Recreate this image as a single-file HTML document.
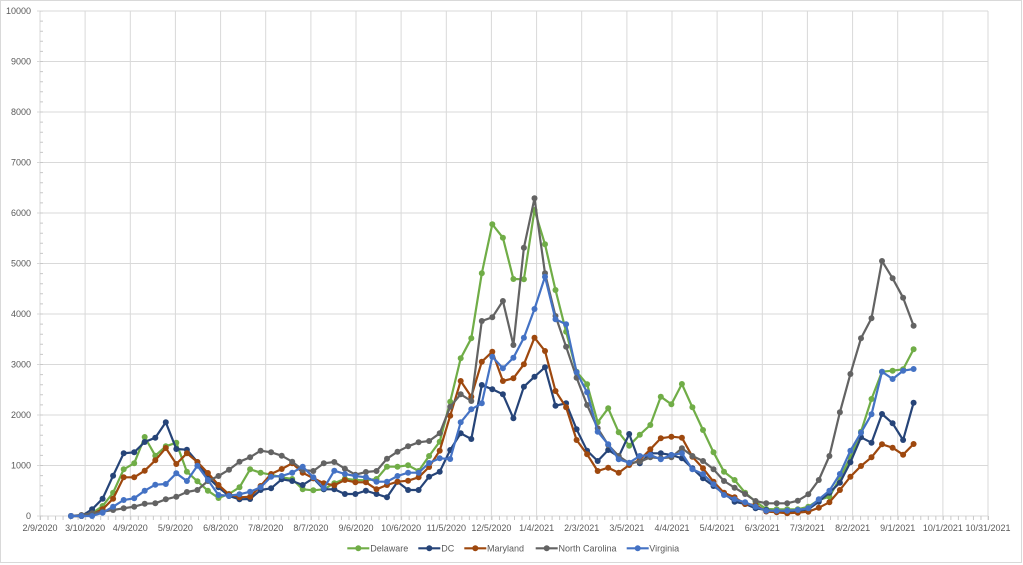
<!DOCTYPE html>
<html><head><meta charset="utf-8"><style>
html,body{margin:0;padding:0;background:#fff;}
svg{display:block;}
text{font-family:"Liberation Sans",Arial,sans-serif;font-size:9px;fill:#595959;}
</style></head><body>
<svg width="1023" height="565" viewBox="0 0 1023 565" xmlns="http://www.w3.org/2000/svg">
<defs>
<marker id="mg" viewBox="0 0 8 8" refX="4" refY="4" markerWidth="8" markerHeight="8" markerUnits="userSpaceOnUse"><circle cx="4" cy="4" r="3" fill="#70ad47"/></marker>
<marker id="mn" viewBox="0 0 8 8" refX="4" refY="4" markerWidth="8" markerHeight="8" markerUnits="userSpaceOnUse"><circle cx="4" cy="4" r="3" fill="#264478"/></marker>
<marker id="mo" viewBox="0 0 8 8" refX="4" refY="4" markerWidth="8" markerHeight="8" markerUnits="userSpaceOnUse"><circle cx="4" cy="4" r="3" fill="#9e480e"/></marker>
<marker id="mgr" viewBox="0 0 8 8" refX="4" refY="4" markerWidth="8" markerHeight="8" markerUnits="userSpaceOnUse"><circle cx="4" cy="4" r="3" fill="#636363"/></marker>
<marker id="mb" viewBox="0 0 8 8" refX="4" refY="4" markerWidth="8" markerHeight="8" markerUnits="userSpaceOnUse"><circle cx="4" cy="4" r="3" fill="#4472c4"/></marker>
</defs>
<rect x="0.5" y="0.5" width="1021" height="562" fill="#fff" stroke="#d9d9d9" stroke-width="1"/>
<g stroke="#d9d9d9" stroke-width="1" fill="none">
<path d="M37 11H988M37 61.5H988M37 112H988M37 162.5H988M37 213H988M37 263.5H988M37 314H988M37 364.5H988M37 415H988M37 465.5H988"/>
<path d="M85.1 11V520M130.3 11V520M175.4 11V520M220.6 11V520M265.7 11V520M310.9 11V520M356 11V520M401.1 11V520M446.3 11V520M491.4 11V520M536.6 11V520M581.7 11V520M626.9 11V520M672 11V520M717.1 11V520M762.3 11V520M807.4 11V520M852.6 11V520M897.7 11V520M942.9 11V520M988 11V520"/>
<path d="M40 11V520M37 516H988"/>
</g>
<line x1="40" y1="518" x2="989" y2="518" stroke="#c8c8c8" stroke-width="4" stroke-dasharray="1 6.5238"/>
<line x1="41.5" y1="516.5" x2="41.5" y2="11" stroke="#c8c8c8" stroke-width="3" stroke-dasharray="1 9.1"/>

<g fill="none" stroke-width="2.2" stroke-linejoin="round">
<polyline stroke="#70ad47" marker-start="url(#mg)" marker-mid="url(#mg)" marker-end="url(#mg)" points="71,516 81.5,516 92.1,513.3 102.6,506 113.1,492.7 123.7,469.3 134.2,463.3 144.7,437 155.3,455.7 165.8,446.3 176.3,442.7 186.9,471.7 197.4,481.3 207.9,490.7 218.5,498 229,494 239.5,487.3 250.1,469.3 260.6,472.7 271.1,474.7 281.7,477.3 292.2,479 302.7,489.3 313.3,490.3 323.8,489.3 334.3,483.3 344.9,478.7 355.4,480 365.9,480.3 376.5,479 387,466.7 397.5,466.7 408.1,465.3 418.6,471 429.1,456 439.7,441.7 450.2,401.7 460.7,358.3 471.3,338.3 481.8,273.3 492.3,224.3 502.9,237.7 513.4,279 523.9,279.3 534.5,210 545,244.3 555.5,290 566.1,331.7 576.6,371.7 587.1,384.3 597.7,422.3 608.2,408.3 618.7,432.3 629.2,445.7 639.8,434.7 650.3,425 660.8,396.7 671.4,404.3 681.9,384 692.4,407.3 703,430 713.5,452.3 724,471.7 734.6,480 745.1,492.7 755.6,501.7 766.2,509 776.7,509.3 787.2,509.3 797.8,509.3 808.3,506.7 818.8,500 829.4,496.7 839.9,478.3 850.4,457.3 861,431.7 871.5,399 882,371.7 892.6,370.7 903.1,369.3 913.6,349.3"/>
<polyline stroke="#264478" marker-start="url(#mn)" marker-mid="url(#mn)" marker-end="url(#mn)" points="71,516 81.5,516 92.1,509.3 102.6,498.7 113.1,475.7 123.7,453.3 134.2,452.3 144.7,442 155.3,437.7 165.8,422.3 176.3,449 186.9,449.7 197.4,462 207.9,477.3 218.5,487.3 229,496 239.5,499.3 250.1,499 260.6,490 271.1,488.3 281.7,479.3 292.2,481 302.7,485 313.3,478.3 323.8,489.3 334.3,489.3 344.9,494 355.4,494 365.9,490.7 376.5,494 387,497.3 397.5,481.7 408.1,490 418.6,490 429.1,476.7 439.7,471.7 450.2,450 460.7,433.3 471.3,439 481.8,385 492.3,389.3 502.9,394.3 513.4,418.3 523.9,386.7 534.5,376.7 545,367.3 555.5,405.7 566.1,403.3 576.6,429.3 587.1,450.7 597.7,461 608.2,450 618.7,456.7 629.2,434 639.8,463.3 650.3,453.3 660.8,453.3 671.4,455 681.9,458.3 692.4,468.3 703,478.3 713.5,486 724,493.3 734.6,501.7 745.1,504 755.6,508.3 766.2,510 776.7,511.7 787.2,511.7 797.8,511 808.3,509.3 818.8,501.7 829.4,492.7 839.9,482.7 850.4,462.3 861,437.3 871.5,442.7 882,414 892.6,423.3 903.1,440 913.6,402.7"/>
<polyline stroke="#9e480e" marker-start="url(#mo)" marker-mid="url(#mo)" marker-end="url(#mo)" points="71,516 81.5,516 92.1,514 102.6,509.3 113.1,498.7 123.7,477.3 134.2,477.3 144.7,470.7 155.3,460.3 165.8,448 176.3,464 186.9,453.3 197.4,462 207.9,473 218.5,485 229,494.3 239.5,497.3 250.1,496.7 260.6,486 271.1,474 281.7,469 292.2,463.3 302.7,472.7 313.3,478.3 323.8,483.3 334.3,485.3 344.9,480 355.4,482.3 365.9,482.3 376.5,489.3 387,485 397.5,481.7 408.1,480.7 418.6,477.3 429.1,467 439.7,450.7 450.2,415.7 460.7,381 471.3,396.7 481.8,361.7 492.3,351.7 502.9,381 513.4,378.3 523.9,364.3 534.5,337.7 545,351 555.5,391 566.1,407.3 576.6,440 587.1,454.3 597.7,471 608.2,467.7 618.7,472.7 629.2,465 639.8,460 650.3,449.3 660.8,438.3 671.4,436.7 681.9,437.7 692.4,456.7 703,468.3 713.5,481.7 724,492.7 734.6,497.3 745.1,504 755.6,505 766.2,511.5 776.7,512.3 787.2,513.3 797.8,512.7 808.3,511.7 818.8,507.7 829.4,502.3 839.9,490 850.4,476.7 861,466 871.5,457.3 882,444.3 892.6,447.7 903.1,454.7 913.6,444"/>
<polyline stroke="#636363" marker-start="url(#mgr)" marker-mid="url(#mgr)" marker-end="url(#mgr)" points="71,516 81.5,515 92.1,513.3 102.6,511.7 113.1,510 123.7,508.3 134.2,506.7 144.7,503.7 155.3,503.3 165.8,499.3 176.3,496.7 186.9,492 197.4,490 207.9,481 218.5,476 229,469.7 239.5,461.7 250.1,457.3 260.6,450.7 271.1,452.3 281.7,455.7 292.2,461.7 302.7,470 313.3,471 323.8,463.3 334.3,462 344.9,468.7 355.4,474.7 365.9,472 376.5,471 387,458.7 397.5,451.7 408.1,446.3 418.6,442.3 429.1,441 439.7,433.3 450.2,406.7 460.7,394.3 471.3,401 481.8,321 492.3,317.3 502.9,301 513.4,345 523.9,247.7 534.5,198.3 545,273.3 555.5,316 566.1,346.7 576.6,377.7 587.1,405 597.7,428.3 608.2,445 618.7,456 629.2,463.3 639.8,461.7 650.3,457.3 660.8,458.3 671.4,457.3 681.9,448.3 692.4,456 703,461 713.5,469.3 724,481 734.6,487.7 745.1,494 755.6,501 766.2,503.3 776.7,503.3 787.2,503.3 797.8,500.7 808.3,494.3 818.8,480 829.4,456 839.9,412.3 850.4,374 861,338.3 871.5,318.3 882,261 892.6,278.3 903.1,297.7 913.6,325.7"/>
<polyline stroke="#4472c4" marker-start="url(#mb)" marker-mid="url(#mb)" marker-end="url(#mb)" points="71,516 81.5,516 92.1,516 102.6,512.7 113.1,506.7 123.7,500 134.2,498.3 144.7,490.7 155.3,484.7 165.8,484 176.3,473.3 186.9,481 197.4,465.7 207.9,480 218.5,495 229,495.7 239.5,494.3 250.1,491.7 260.6,487.3 271.1,476.7 281.7,476 292.2,472.7 302.7,466.7 313.3,477.3 323.8,488.3 334.3,470.7 344.9,474 355.4,476 365.9,477.3 376.5,481.7 387,481.7 397.5,476 408.1,472.7 418.6,472.7 429.1,463 439.7,458.3 450.2,459 460.7,422.3 471.3,409.3 481.8,403.3 492.3,356.7 502.9,368.3 513.4,357.7 523.9,337.7 534.5,309 545,276.7 555.5,319.3 566.1,324.3 576.6,372.3 587.1,392.3 597.7,431.7 608.2,444.3 618.7,459.3 629.2,462.7 639.8,456 650.3,455 660.8,459.3 671.4,455 681.9,453.3 692.4,469.3 703,474 713.5,484.3 724,495 734.6,499.3 745.1,502.3 755.6,506.7 766.2,510.7 776.7,510.7 787.2,510.7 797.8,510 808.3,508.3 818.8,499.3 829.4,490.7 839.9,474 850.4,450.7 861,432.7 871.5,414.3 882,371.7 892.6,379 903.1,370.7 913.6,369"/>
</g>

<g text-anchor="end">
<text x="31" y="14.2">10000</text>
<text x="31" y="64.7">9000</text>
<text x="31" y="115.2">8000</text>
<text x="31" y="165.7">7000</text>
<text x="31" y="216.2">6000</text>
<text x="31" y="266.7">5000</text>
<text x="31" y="317.2">4000</text>
<text x="31" y="367.7">3000</text>
<text x="31" y="418.2">2000</text>
<text x="31" y="468.7">1000</text>
<text x="31" y="519.2">0</text>
</g>
<g text-anchor="middle">
<text x="40" y="531">2/9/2020</text>
<text x="85.1" y="531">3/10/2020</text>
<text x="130.3" y="531">4/9/2020</text>
<text x="175.4" y="531">5/9/2020</text>
<text x="220.6" y="531">6/8/2020</text>
<text x="265.7" y="531">7/8/2020</text>
<text x="310.9" y="531">8/7/2020</text>
<text x="356" y="531">9/6/2020</text>
<text x="401.1" y="531">10/6/2020</text>
<text x="446.3" y="531">11/5/2020</text>
<text x="491.4" y="531">12/5/2020</text>
<text x="536.6" y="531">1/4/2021</text>
<text x="581.7" y="531">2/3/2021</text>
<text x="626.9" y="531">3/5/2021</text>
<text x="672" y="531">4/4/2021</text>
<text x="717.1" y="531">5/4/2021</text>
<text x="762.3" y="531">6/3/2021</text>
<text x="807.4" y="531">7/3/2021</text>
<text x="852.6" y="531">8/2/2021</text>
<text x="897.7" y="531">9/1/2021</text>
<text x="942.9" y="531">10/1/2021</text>
<text x="988" y="531">10/31/2021</text>
</g>

<g stroke-width="2.2">
<line x1="347.3" y1="548.3" x2="369.3" y2="548.3" stroke="#70ad47"/><circle cx="358.3" cy="548.3" r="3" fill="#70ad47" stroke="none"/>
<line x1="418.3" y1="548.3" x2="440.3" y2="548.3" stroke="#264478"/><circle cx="429.3" cy="548.3" r="3" fill="#264478" stroke="none"/>
<line x1="464.3" y1="548.3" x2="486.3" y2="548.3" stroke="#9e480e"/><circle cx="475.3" cy="548.3" r="3" fill="#9e480e" stroke="none"/>
<line x1="535.7" y1="548.3" x2="557.7" y2="548.3" stroke="#636363"/><circle cx="546.7" cy="548.3" r="3" fill="#636363" stroke="none"/>
<line x1="626.7" y1="548.3" x2="648.7" y2="548.3" stroke="#4472c4"/><circle cx="637.7" cy="548.3" r="3" fill="#4472c4" stroke="none"/>
</g>
<text x="370.3" y="551.5">Delaware</text>
<text x="441.3" y="551.5">DC</text>
<text x="487" y="551.5">Maryland</text>
<text x="558.5" y="551.5">North Carolina</text>
<text x="649.3" y="551.5">Virginia</text>
</svg>
</body></html>
